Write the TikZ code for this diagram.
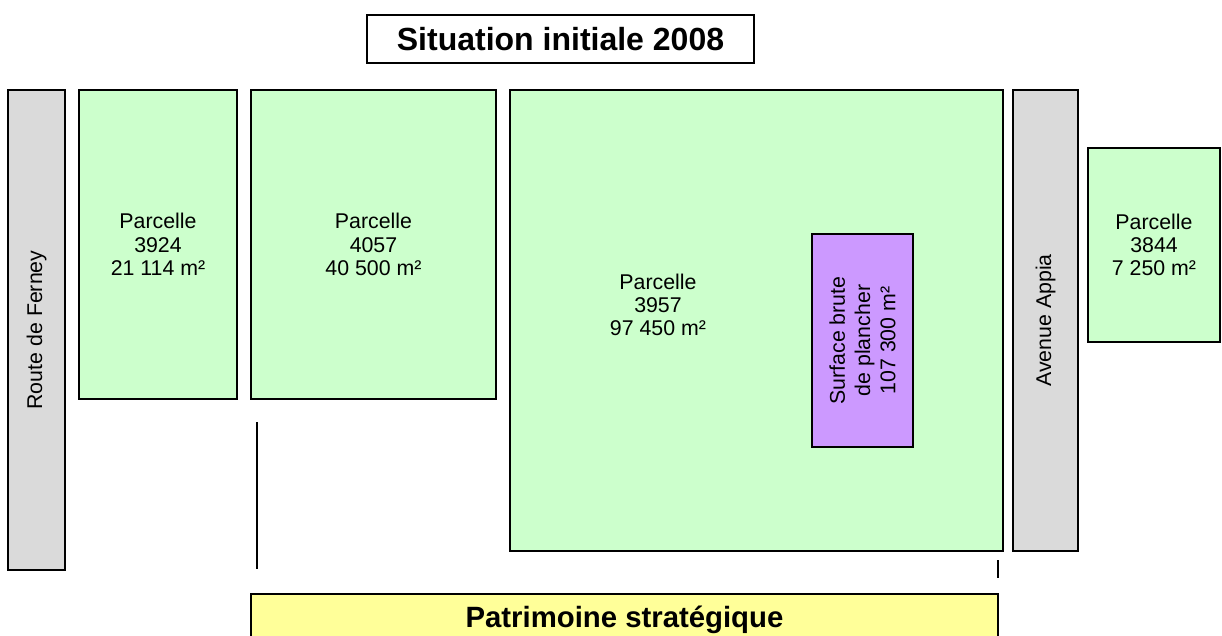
\documentclass[tikz,border=0pt]{standalone}
\usepackage{fontspec}
\setmainfont{Liberation Sans}
\definecolor{vertparc}{HTML}{CCFFCC}
\definecolor{grisrue}{HTML}{DADADA}
\definecolor{violetsbp}{HTML}{CC99FF}
\definecolor{jaunepat}{HTML}{FFFF99}

\begin{document}
\begin{tikzpicture}
	[x=0.75pt,y=-0.75pt,line width=1pt,
	box/.style 2 args={draw,rectangle,inner sep=0pt,align=center,minimum width=#1*0.75pt,minimum height=#2*0.75pt,font=\fontsize{16}{17.5}\selectfont},
	parcelle/.style={fill=vertparc},
	rue/.style={fill=grisrue,rotate=90},
	sbp/.style={fill=violetsbp,rotate=90,font=\fontsize{16}{19}\selectfont},
	titre/.style={font=\fontsize{#1}{26}\selectfont\bfseries},]
	\useasboundingbox (0,0) rectangle (1222,636);
	\node (titre) at (560.5,39)[box={387}{48},titre=24] {Situation initiale 2008};
	\node (ferney) at (36.5,330)[box={480}{57},rue] {Route de Ferney};
	\node (p3924) at (158,244.5)[box={158}{309},parcelle] {Parcelle\\3924\\21 114 m²};
	\node (p4057) at (373.5,244.5)[box={245}{309},parcelle] {Parcelle\\4057\\40 500 m²};
	\node (p3957) at (756.5,320.5)[box={493}{461},parcelle] {};
	\node (t3957) at (658,305)[align=center,font=\fontsize{16}{17.5}\selectfont] {Parcelle\\3957\\97 450 m²};
	\node (sbp) at (862.5,340.5)[box={213}{101},sbp] {Surface brute\\de plancher\\107 300 m²};
	\node (appia) at (1045.5,320.5)[box={461}{65},rue] {Avenue Appia};
	\node (p3844) at (1154,245)[box={132}{194},parcelle] {Parcelle\\3844\\7 250 m²};
	\node (patrimoine) at (624.5,620)[box={747}{52},fill=jaunepat,titre=22] {Patrimoine stratégique};
	% reperes du patrimoine
	\coordinate (g1) at (257,422);
	\coordinate (g2) at (257,569);
	\coordinate (d1) at (998,560);
	\coordinate (d2) at (998,578);
	\draw (g1) -- (g2);
	\draw (d1) -- (d2);
\end{tikzpicture}
\end{document}
